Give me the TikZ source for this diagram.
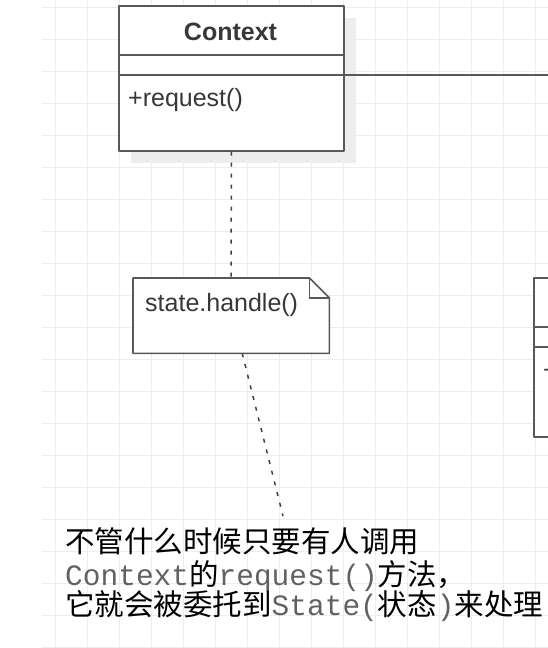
\documentclass[tikz,border=0pt]{standalone}
\usepackage{fontspec}
\setmainfont{Liberation Sans}
\setmonofont{Liberation Mono}
\newfontfamily\cjk{Noto Sans CJK SC}
\usetikzlibrary{calc,positioning}

\begin{document}
\begin{tikzpicture}[x=1pt,y=-1pt,
  umlbox/.style={draw=line gray,fill=white,line width=1.6pt,line join=round,rectangle,inner sep=0,anchor=north west},
  divider/.style={draw=line gray,line width=1.6pt},
  member/.style={font=\fontsize{25}{30}\selectfont,text=text gray,inner sep=0,anchor=base west},
  gridline/.style={draw=grid gray,line width=1pt},
  link/.style={draw=link gray,line width=1.5pt,dash pattern=on 4pt off 7pt},
  remark/.style={font=\fontsize{29.5}{32}\selectfont\cjk,inner sep=0,anchor=base west},
]
  \colorlet{line gray}{black!65}
  \colorlet{text gray}{black!78}
  \colorlet{grid gray}{black!7}
  \colorlet{shadow gray}{black!7}
  \colorlet{link gray}{black!75}
  \colorlet{mono gray}{black!62}
  \newcommand\code[1]{\textcolor{mono gray}{\ttfamily #1}}

  \useasboundingbox (0,0) rectangle (548,648);
  \clip (0,0) rectangle (548,648);

  \foreach \gx in {55,87,...,535}
    \draw[gridline] (\gx,0) -- (\gx,648);
  \foreach \gy in {7,39,...,647}
    \draw[gridline] (42,\gy) -- (548,\gy);

  \fill[shadow gray] (131,18) rectangle (356,163);
  \node[umlbox,minimum width=225pt,minimum height=145pt] (ctx) at (118,5) {};
  \draw[divider] ([yshift=-50pt]ctx.north west) -- ([yshift=-50pt]ctx.north east);
  \draw[divider] ([yshift=-70pt]ctx.north west) -- ([yshift=-70pt]ctx.north east);
  \node[member,anchor=base,font=\fontsize{25}{30}\selectfont\bfseries] (ctxname) at (230.5,40) {Context};
  \node[member] (ctxop) at (128,106) {+request()};

  \node[umlbox,minimum width=60pt,minimum height=159pt] (state) at (533,277) {};
  \draw[divider] ([yshift=-50pt]state.north west) -- ([yshift=-50pt]state.north east);
  \draw[divider] ([yshift=-70pt]state.north west) -- ([yshift=-70pt]state.north east);
  \node[member] (stateop) at (543,378) {+};

  \coordinate (offright) at (560,75);
  \draw[divider] ([yshift=-70pt]ctx.north east) -- (offright);

  \node[minimum width=196pt,minimum height=75pt,inner sep=0,anchor=north west] (note) at (133,278) {};
  \draw[umlbox] (note.north west) -- ([xshift=-20pt]note.north east)
    -- ([yshift=-20pt]note.north east) -- (note.south east)
    -- (note.south west) -- cycle;
  \draw[divider] ([xshift=-20pt]note.north east) |- ([yshift=-20pt]note.north east);
  \node[member] (notetext) at (145,311) {state.handle()};

  \draw[link] (ctx.south) -- (note.north);
  \coordinate (tip) at (283,516);
  \draw[link] ([xshift=11pt]note.south) -- (tip);

  \node[remark] (line1) at (65,552) {不管什么时候只要有人调用};
  \node[remark] (line2) at (65,585) {\code{Context}的\code{request()}方法，};
  \node[remark] (line3) at (65,615) {它就会被委托到\code{State(}状态\code{)}来处理};
\end{tikzpicture}
\end{document}
